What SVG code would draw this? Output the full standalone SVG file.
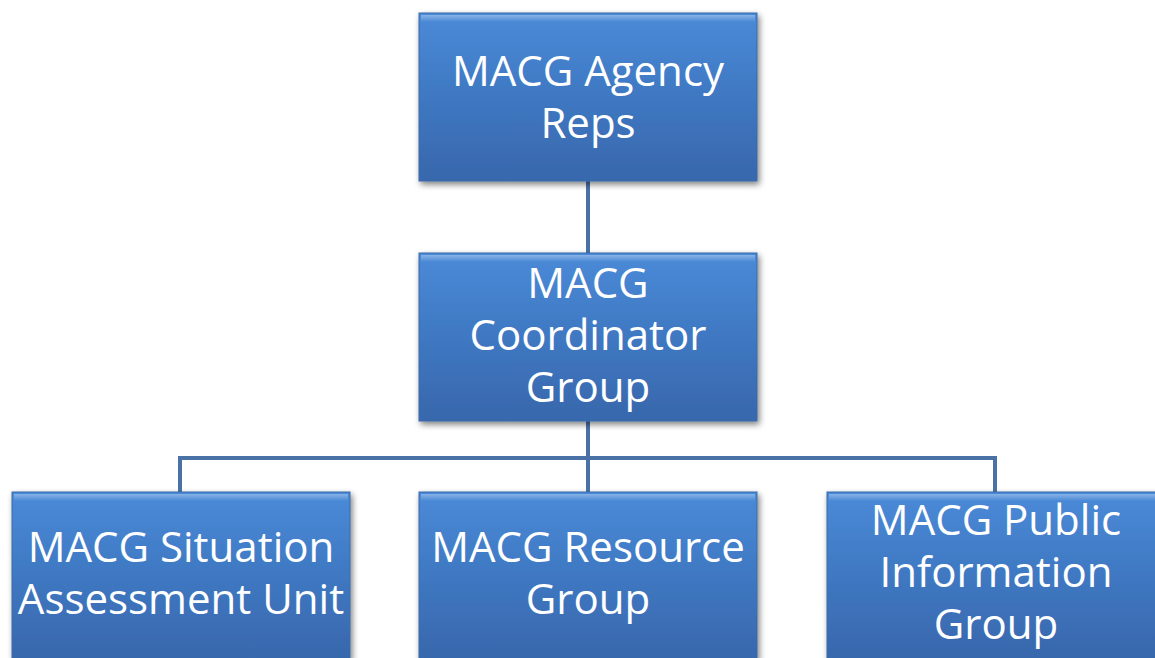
<svg xmlns="http://www.w3.org/2000/svg" width="1155" height="658" viewBox="0 0 1155 658">
<defs>
<linearGradient id="g" x1="0" y1="0" x2="0" y2="1">
<stop offset="0" stop-color="#4a8ad8"/>
<stop offset="0.5" stop-color="#3f78c2"/>
<stop offset="1" stop-color="#3867ac"/>
</linearGradient>
<linearGradient id="hl" x1="0" y1="0" x2="0" y2="1">
<stop offset="0" stop-color="#ffffff" stop-opacity="0.35"/>
<stop offset="1" stop-color="#ffffff" stop-opacity="0"/>
</linearGradient>
<filter id="sh" x="-10%" y="-10%" width="125%" height="125%">
<feGaussianBlur in="SourceAlpha" stdDeviation="3"/>
<feOffset dx="2" dy="3" result="b"/>
<feComponentTransfer><feFuncA type="linear" slope="0.5"/></feComponentTransfer>
<feMerge><feMergeNode/><feMergeNode in="SourceGraphic"/></feMerge>
</filter>
</defs>
<style>
.box{fill:url(#g);stroke:#3a6aa8;stroke-width:1;filter:url(#sh)}
.bev{fill:url(#hl)}
.t{font-family:"Open Sans","Noto Sans",sans-serif;font-size:42px;fill:#ffffff;text-anchor:middle}
.c{fill:none;stroke:#4a72a6;stroke-width:4}
</style>
<g id="connectors">
<path class="c" d="M588 181V253"/>
<path class="c" d="M588 421V458M180 492V458H995V492M588 458V492"/>
</g>
<g id="agency">
<rect class="box" x="419" y="13" width="338" height="168"/>
<rect class="bev" x="421" y="15" width="334" height="7"/>
<text class="t" x="588" y="86">MACG Agency</text>
<text class="t" x="588" y="138">Reps</text>
</g>
<g id="coordinator">
<rect class="box" x="419" y="253" width="338" height="168"/>
<rect class="bev" x="421" y="255" width="334" height="7"/>
<text class="t" x="588" y="298">MACG</text>
<text class="t" x="588" y="350">Coordinator</text>
<text class="t" x="588" y="402">Group</text>
</g>
<g id="situation">
<rect class="box" x="12" y="492" width="338" height="168"/>
<rect class="bev" x="14" y="494" width="334" height="7"/>
<text class="t" x="181" y="562">MACG Situation</text>
<text class="t" x="181" y="614">Assessment Unit</text>
</g>
<g id="resource">
<rect class="box" x="419" y="492" width="338" height="168"/>
<rect class="bev" x="421" y="494" width="334" height="7"/>
<text class="t" x="588" y="562">MACG Resource</text>
<text class="t" x="588" y="614">Group</text>
</g>
<g id="public">
<rect class="box" x="827" y="492" width="338" height="168"/>
<rect class="bev" x="829" y="494" width="334" height="7"/>
<text class="t" x="996" y="535">MACG Public</text>
<text class="t" x="996" y="587">Information</text>
<text class="t" x="996" y="639">Group</text>
</g>
</svg>
